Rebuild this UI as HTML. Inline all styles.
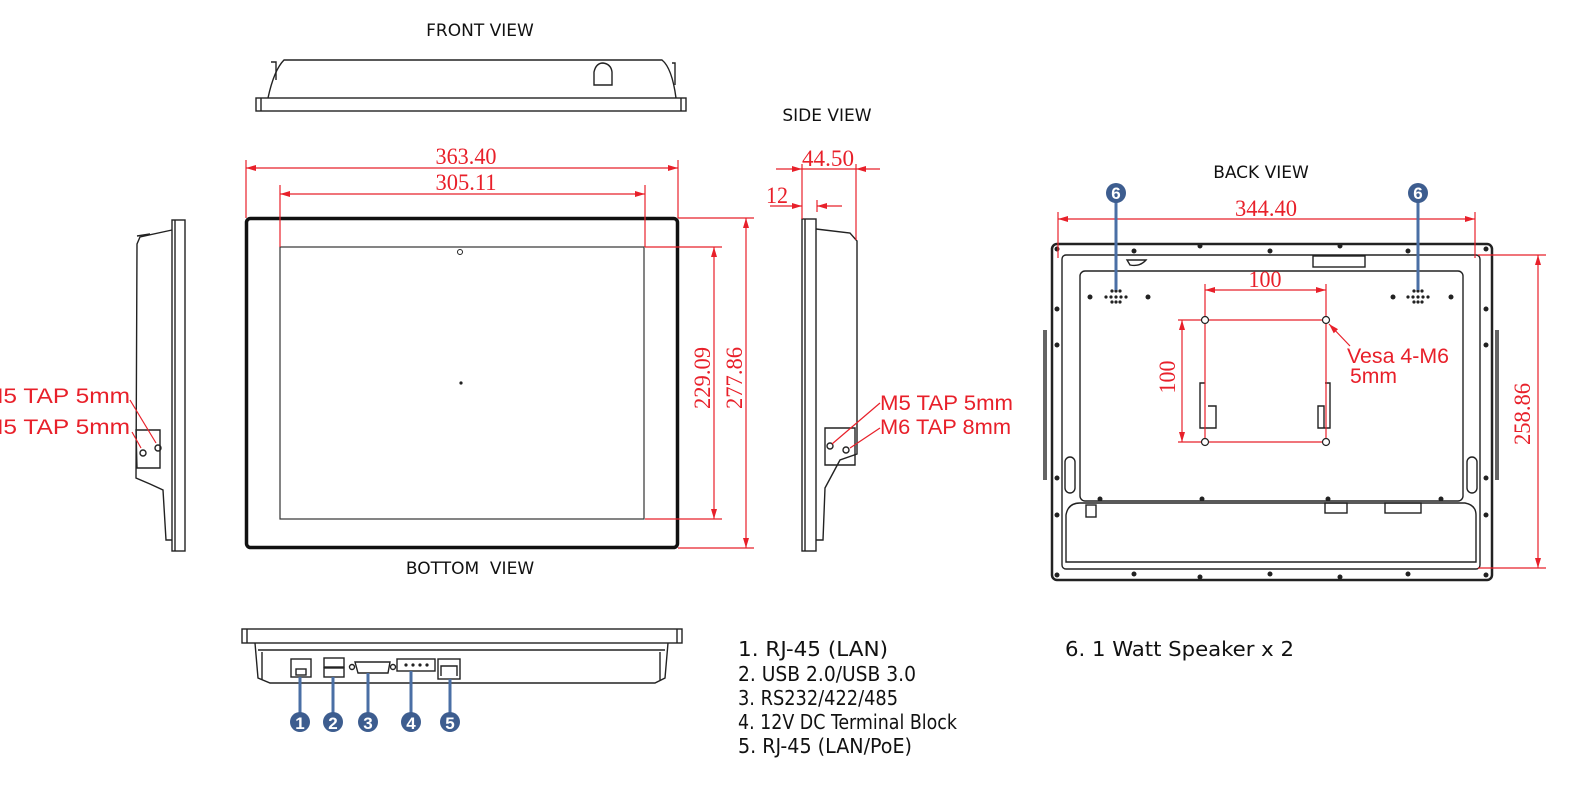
<!DOCTYPE html>
<html><head><meta charset="utf-8"><style>
html,body{margin:0;padding:0;background:#fff;width:1575px;height:785px;overflow:hidden}
svg{display:block}
.k{fill:none;stroke:#222;stroke-width:1.4}
.r{stroke:#e8202a;stroke-width:1.2;fill:none}
.rt{fill:#e8202a;font-family:"Liberation Serif",serif;font-size:23px}
.rs{fill:#e8202a;font-family:"Liberation Sans",sans-serif;font-size:21px}
.t{fill:#111;font-family:"DejaVu Sans","Liberation Sans",sans-serif;font-size:17px}
.lg{fill:#111;font-family:"DejaVu Sans Condensed","DejaVu Sans","Liberation Sans",sans-serif;font-size:20px}
.b{stroke:#4a6fa5;stroke-width:3}
.bc{fill:#3d5d8f}
.bn{fill:#fff;font-family:"Liberation Sans",sans-serif;font-weight:bold;font-size:17px;text-anchor:middle}
</style></head><body>
<svg width="1575" height="785" viewBox="0 0 1575 785" xmlns="http://www.w3.org/2000/svg">
<defs>
<marker id="a" viewBox="0 0 10 6" refX="10" refY="3" markerWidth="10" markerHeight="6" orient="auto-start-reverse" markerUnits="userSpaceOnUse"><path d="M0,0 L10,3 L0,6 z" fill="#e8202a"/></marker>
</defs>

<text class="t" x="480" y="36" text-anchor="middle">FRONT VIEW</text>
<text class="t" x="827" y="121" text-anchor="middle">SIDE VIEW</text>
<text class="t" x="1261" y="178" text-anchor="middle">BACK VIEW</text>
<text class="t" x="470" y="574" text-anchor="middle">BOTTOM&#160;&#160;VIEW</text>

<rect class="k" x="256" y="98" width="430" height="13"/>
<line class="k" x1="261" y1="98" x2="261" y2="111"/><line class="k" x1="681" y1="98" x2="681" y2="111"/>
<path class="k" d="M268,98 Q274,70 284,60 L662,60 Q672,68 676,98"/>
<path class="k" d="M271,62 L276,62 L276,80 M672,63 L675,63 L675,85"/>
<path class="k" d="M594,85 L594,72 Q596,63 603,63 Q611,64 612,72 L612,85 Z"/>

<rect x="246.5" y="218.5" width="431" height="329" rx="4" fill="none" stroke="#111" stroke-width="3.5"/>
<rect x="280" y="247" width="364" height="272" fill="none" stroke="#333" stroke-width="1.2"/>
<circle cx="460" cy="252" r="2.5" fill="none" stroke="#222"/>
<circle cx="461" cy="383" r="1.6" fill="#222"/>

<line class="r" x1="246" y1="160" x2="246" y2="218"/>
<line class="r" x1="678" y1="160" x2="678" y2="218"/>
<line class="r" x1="280" y1="185" x2="280" y2="247"/>
<line class="r" x1="645" y1="185" x2="645" y2="247"/>
<line class="r" x1="246" y1="168" x2="678" y2="168" marker-start="url(#a)" marker-end="url(#a)"/>
<line class="r" x1="280" y1="194" x2="645" y2="194" marker-start="url(#a)" marker-end="url(#a)"/>
<text class="rt" x="466" y="164" text-anchor="middle" textLength="61" lengthAdjust="spacingAndGlyphs">363.40</text>
<text class="rt" x="466" y="190" text-anchor="middle" textLength="61" lengthAdjust="spacingAndGlyphs">305.11</text>
<line class="r" x1="645" y1="247" x2="722" y2="247"/>
<line class="r" x1="645" y1="519" x2="722" y2="519"/>
<line class="r" x1="678" y1="218" x2="754" y2="218"/>
<line class="r" x1="678" y1="548" x2="754" y2="548"/>
<line class="r" x1="714" y1="247" x2="714" y2="519" marker-start="url(#a)" marker-end="url(#a)"/>
<line class="r" x1="746" y1="218" x2="746" y2="548" marker-start="url(#a)" marker-end="url(#a)"/>
<text class="rt" transform="translate(710,378) rotate(-90)" text-anchor="middle" textLength="62" lengthAdjust="spacingAndGlyphs">229.09</text>
<text class="rt" transform="translate(742,378) rotate(-90)" text-anchor="middle" textLength="62" lengthAdjust="spacingAndGlyphs">277.86</text>

<rect class="k" x="172" y="220" width="13" height="331"/>
<line class="k" x1="175" y1="220" x2="175" y2="551"/>
<path class="k" d="M172,230 L140,237 L137,244 L136,478 L150,484 L163,490 L166,540 L172,540"/>
<path class="k" d="M137,236 L150,234"/>
<path class="k" d="M136,430 L160,430 L160,468 L137,468 Z"/>
<circle class="k" cx="143" cy="453" r="3"/><circle class="k" cx="158" cy="448" r="3"/>
<text class="rs" x="-17" y="403" textLength="147" lengthAdjust="spacingAndGlyphs">M5 TAP 5mm</text>
<text class="rs" x="-17" y="434" textLength="147" lengthAdjust="spacingAndGlyphs">M5 TAP 5mm</text>
<line class="r" x1="130" y1="400" x2="156" y2="443"/>
<line class="r" x1="132" y1="432" x2="141" y2="448"/>

<rect class="k" x="802" y="219" width="14" height="332"/>
<line class="k" x1="805" y1="219" x2="805" y2="551"/>
<path class="k" d="M816,229 L850,233 L857,241 L857,454 L840,460 L825,488 L823,540 L816,540"/>
<path class="k" d="M825,428 L855,428 L855,465 L825,465 Z"/>
<circle class="k" cx="830" cy="446" r="3"/><circle class="k" cx="846" cy="450" r="3"/>
<line class="r" x1="802" y1="164" x2="802" y2="219"/>
<line class="r" x1="856" y1="164" x2="856" y2="240"/>
<line class="r" x1="817" y1="200" x2="817" y2="212"/>
<line class="r" x1="776" y1="169" x2="802" y2="169" marker-end="url(#a)"/>
<line class="r" x1="880" y1="169" x2="856" y2="169" marker-end="url(#a)"/>
<line class="r" x1="802" y1="169" x2="856" y2="169"/>
<line class="r" x1="770" y1="206" x2="802" y2="206" marker-end="url(#a)"/>
<line class="r" x1="842" y1="206" x2="817" y2="206" marker-end="url(#a)"/>
<text class="rt" x="828" y="166" text-anchor="middle" textLength="52" lengthAdjust="spacingAndGlyphs">44.50</text>
<text class="rt" x="766" y="203" textLength="22" lengthAdjust="spacingAndGlyphs">12</text>
<text class="rs" x="880" y="410" textLength="133" lengthAdjust="spacingAndGlyphs">M5 TAP 5mm</text>
<text class="rs" x="880" y="434" textLength="131" lengthAdjust="spacingAndGlyphs">M6 TAP 8mm</text>
<line class="r" x1="880" y1="403" x2="832" y2="444"/>
<line class="r" x1="880" y1="428" x2="850" y2="448"/>

<rect x="1052" y="244" width="440" height="336" rx="5" fill="none" stroke="#222" stroke-width="2.5"/>
<rect class="k" x="1062" y="255" width="418" height="314" rx="4"/>
<rect class="k" x="1080" y="271" width="383" height="230" rx="5"/>
<path class="k" d="M1066,515 Q1068,503 1080,503 L1465,503 Q1476,505 1476,515 L1476,562 L1066,562 Z"/>
<path class="k" d="M1046,330 L1046,480 M1044,330 L1044,480 M1496,330 L1496,480 M1498,330 L1498,480" />
<rect class="k" x="1065" y="457" width="10" height="36" rx="5"/>
<rect class="k" x="1467" y="457" width="10" height="36" rx="5"/>
<rect class="k" x="1313" y="256" width="52" height="11"/>
<path class="k" d="M1127,260 L1146,260 Q1140,267 1130,265 Z"/>
<rect class="k" x="1086" y="505" width="10" height="12"/>
<rect class="k" x="1325" y="503" width="22" height="10"/>
<rect class="k" x="1385" y="503" width="36" height="10"/>
<g fill="#222">
<circle cx="1134" cy="251" r="2.5"/><circle cx="1200" cy="246" r="2.5"/><circle cx="1270" cy="251" r="2.5"/><circle cx="1340" cy="246" r="2.5"/><circle cx="1408" cy="251" r="2.5"/>
<circle cx="1134" cy="574" r="2.5"/><circle cx="1200" cy="577" r="2.5"/><circle cx="1270" cy="574" r="2.5"/><circle cx="1340" cy="577" r="2.5"/><circle cx="1408" cy="574" r="2.5"/>
<circle cx="1057" cy="249" r="2.5"/><circle cx="1486" cy="249" r="2.5"/><circle cx="1057" cy="575" r="2.5"/><circle cx="1486" cy="575" r="2.5"/>
<circle cx="1057" cy="309" r="2.5"/><circle cx="1057" cy="345" r="2.5"/><circle cx="1057" cy="478" r="2.5"/><circle cx="1057" cy="515" r="2.5"/>
<circle cx="1486" cy="309" r="2.5"/><circle cx="1486" cy="345" r="2.5"/><circle cx="1486" cy="478" r="2.5"/><circle cx="1486" cy="515" r="2.5"/>
<circle cx="1090" cy="297" r="2.5"/><circle cx="1148" cy="297" r="2.5"/><circle cx="1393" cy="297" r="2.5"/><circle cx="1451" cy="297" r="2.5"/>
<circle cx="1100" cy="499" r="2.5"/><circle cx="1202" cy="499" r="2.5"/><circle cx="1328" cy="499" r="2.5"/><circle cx="1441" cy="499" r="2.5"/>
</g>
<g fill="#222">
<circle cx="1112" cy="291" r="1.6"/><circle cx="1116" cy="291" r="1.6"/><circle cx="1120" cy="291" r="1.6"/>
<circle cx="1106" cy="297" r="1.6"/><circle cx="1111" cy="297" r="1.6"/><circle cx="1116" cy="297" r="1.6"/><circle cx="1121" cy="297" r="1.6"/><circle cx="1126" cy="297" r="1.6"/>
<circle cx="1112" cy="302" r="1.6"/><circle cx="1116" cy="302" r="1.6"/><circle cx="1120" cy="302" r="1.6"/>
<circle cx="1414" cy="291" r="1.6"/><circle cx="1418" cy="291" r="1.6"/><circle cx="1422" cy="291" r="1.6"/>
<circle cx="1408" cy="297" r="1.6"/><circle cx="1413" cy="297" r="1.6"/><circle cx="1418" cy="297" r="1.6"/><circle cx="1423" cy="297" r="1.6"/><circle cx="1428" cy="297" r="1.6"/>
<circle cx="1414" cy="302" r="1.6"/><circle cx="1418" cy="302" r="1.6"/><circle cx="1422" cy="302" r="1.6"/>
</g>
<path class="k" d="M1205,383 L1200,383 L1200,428 L1216,428 L1216,406 L1208,406" stroke-width="1.8"/>
<path class="k" d="M1325,383 L1330,383 L1330,428 L1324,428 L1324,406 L1318,406 L1318,428 L1325,428" stroke-width="1.8"/>
<line class="r" x1="1058" y1="212" x2="1058" y2="258"/>
<line class="r" x1="1475" y1="212" x2="1475" y2="258"/>
<line class="r" x1="1058" y1="219" x2="1475" y2="219" marker-start="url(#a)" marker-end="url(#a)"/>
<text class="rt" x="1266" y="216" text-anchor="middle" textLength="62" lengthAdjust="spacingAndGlyphs">344.40</text>
<line class="r" x1="1478" y1="255" x2="1546" y2="255"/>
<line class="r" x1="1478" y1="568" x2="1546" y2="568"/>
<line class="r" x1="1538" y1="255" x2="1538" y2="568" marker-start="url(#a)" marker-end="url(#a)"/>
<text class="rt" transform="translate(1530,414) rotate(-90)" text-anchor="middle" textLength="62" lengthAdjust="spacingAndGlyphs">258.86</text>
<line class="r" x1="1205" y1="284" x2="1205" y2="442"/>
<line class="r" x1="1326" y1="284" x2="1326" y2="442"/>
<line class="r" x1="1205" y1="320" x2="1326" y2="320"/>
<line class="r" x1="1205" y1="442" x2="1326" y2="442"/>
<line class="r" x1="1205" y1="290" x2="1326" y2="290" marker-start="url(#a)" marker-end="url(#a)"/>
<text class="rt" x="1265" y="287" text-anchor="middle" textLength="33" lengthAdjust="spacingAndGlyphs">100</text>
<line class="r" x1="1178" y1="320" x2="1205" y2="320"/>
<line class="r" x1="1178" y1="442" x2="1205" y2="442"/>
<line class="r" x1="1182" y1="320" x2="1182" y2="442" marker-start="url(#a)" marker-end="url(#a)"/>
<text class="rt" transform="translate(1175,377) rotate(-90)" text-anchor="middle" textLength="33" lengthAdjust="spacingAndGlyphs">100</text>
<g fill="#fff" stroke="#222" stroke-width="1.2">
<circle cx="1205" cy="320" r="3.5"/><circle cx="1326" cy="320" r="3.5"/><circle cx="1205" cy="442" r="3.5"/><circle cx="1326" cy="442" r="3.5"/>
</g>
<line class="r" x1="1350" y1="346" x2="1329" y2="324" marker-end="url(#a)"/>
<text class="rs" x="1347" y="363" textLength="102" lengthAdjust="spacingAndGlyphs">Vesa 4-M6</text>
<text class="rs" x="1350" y="383" textLength="47" lengthAdjust="spacingAndGlyphs">5mm</text>
<line class="b" x1="1116" y1="193" x2="1116" y2="290" stroke-width="2"/>
<line class="b" x1="1418" y1="193" x2="1418" y2="290" stroke-width="2"/>
<circle class="bc" cx="1116" cy="193" r="10"/><text class="bn" x="1116" y="199">6</text>
<circle class="bc" cx="1418" cy="193" r="10"/><text class="bn" x="1418" y="199">6</text>

<rect class="k" x="242" y="629" width="440" height="14"/>
<line class="k" x1="247" y1="629" x2="247" y2="643"/><line class="k" x1="677" y1="629" x2="677" y2="643"/>
<path class="k" d="M255,643 L258,678 L270,683 L655,683 L665,678 L668,643"/>
<line class="k" x1="258" y1="650" x2="665" y2="650"/>
<line class="k" x1="262" y1="652" x2="262" y2="680"/><line class="k" x1="660" y1="652" x2="660" y2="680"/>
<rect class="k" x="291" y="659" width="20" height="18"/><rect class="k" x="296" y="669" width="10" height="6"/>
<rect class="k" x="324" y="658" width="20" height="9"/><rect class="k" x="324" y="668" width="20" height="9"/>
<path class="k" d="M355,662 L390,662 L388,673 L358,673 Z"/><circle class="k" cx="352" cy="667" r="2.5"/><circle class="k" cx="393" cy="667" r="2.5"/>
<rect class="k" x="397" y="659" width="38" height="12"/>
<g fill="#222"><circle cx="406" cy="665" r="1.6"/><circle cx="413" cy="665" r="1.6"/><circle cx="420" cy="665" r="1.6"/><circle cx="427" cy="665" r="1.6"/></g>
<rect class="k" x="438" y="659" width="22" height="20"/><path class="k" d="M441,676 L441,666 L457,666 L457,676"/>
<line class="b" x1="300" y1="677" x2="300" y2="720"/>
<line class="b" x1="333" y1="677" x2="333" y2="720"/>
<line class="b" x1="368" y1="673" x2="368" y2="720"/>
<line class="b" x1="411" y1="671" x2="411" y2="720"/>
<line class="b" x1="450" y1="679" x2="450" y2="720"/>
<circle class="bc" cx="300" cy="722" r="10"/><text class="bn" x="300" y="729">1</text>
<circle class="bc" cx="333" cy="722" r="10"/><text class="bn" x="333" y="729">2</text>
<circle class="bc" cx="368" cy="722" r="10"/><text class="bn" x="368" y="729">3</text>
<circle class="bc" cx="411" cy="722" r="10"/><text class="bn" x="411" y="729">4</text>
<circle class="bc" cx="450" cy="722" r="10"/><text class="bn" x="450" y="729">5</text>

<text class="lg" x="738" y="656" textLength="150" lengthAdjust="spacingAndGlyphs">1. RJ-45 (LAN)</text>
<text class="lg" x="738" y="681" textLength="178" lengthAdjust="spacingAndGlyphs">2. USB 2.0/USB 3.0</text>
<text class="lg" x="738" y="705" textLength="160" lengthAdjust="spacingAndGlyphs">3. RS232/422/485</text>
<text class="lg" x="738" y="729" textLength="219" lengthAdjust="spacingAndGlyphs">4. 12V DC Terminal Block</text>
<text class="lg" x="738" y="753" textLength="174" lengthAdjust="spacingAndGlyphs">5. RJ-45 (LAN/PoE)</text>
<text class="lg" x="1065" y="656" textLength="229" lengthAdjust="spacingAndGlyphs">6. 1 Watt Speaker x 2</text>
</svg>
</body></html>
